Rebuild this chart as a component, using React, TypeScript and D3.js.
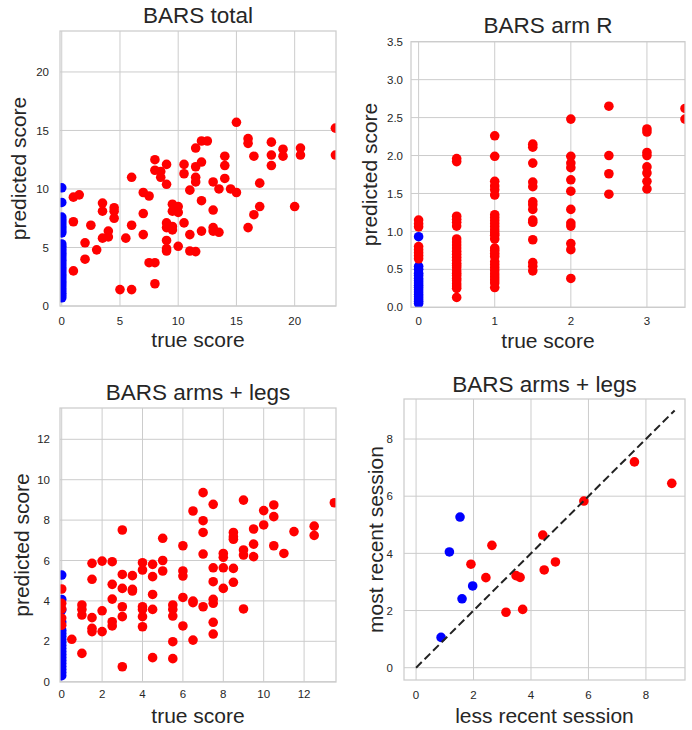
import React from "react";
import * as d3 from "d3";

type Pt = [number, number];

// ---------- DATA ----------
const totalTicks = [0, 5, 10, 15, 20];
const armXTicks = [0, 1, 2, 3];
const armYTicks = [0, 0.5, 1, 1.5, 2, 2.5, 3, 3.5];
const limbsTicks = [0, 2, 4, 6, 8, 10, 12];
const sessionTicks = [0, 2, 4, 6, 8];
const diagonal: Pt[] = [[0, 0], [9, 9]];

const totalRed: Pt[] = [
  [23.5, 15.2], [23.5, 12.9], [15, 15.7], [16, 14.3], [16, 13.9], [16.5, 12.8], [18, 14.0], [18, 12.9], [18, 12.0],
  [19, 13.4], [19, 12.8], [20.5, 13.5], [20.5, 12.9], [20, 8.5], [17, 10.5], [17, 8.5], [16.5, 7.8], [16, 6.7],
  [15, 9.7], [14.5, 10.0], [14, 12.8], [14, 12.0], [14, 10.9], [13.5, 10.0], [13, 10.6], [13, 8.2], [13, 6.7],
  [13, 6.4], [13.5, 6.3], [12, 14.1], [12.5, 14.1], [12, 12.3], [12, 9.0], [12, 6.4], [11.5, 13.5], [11.5, 11.9],
  [11.5, 11.0], [11.5, 10.6], [11, 9.9], [11, 6.1], [11, 4.7], [11.5, 4.65], [10.5, 12.1], [10.5, 11.3], [10.5, 7.1],
  [10, 8.5], [10, 8.0], [9.5, 8.7], [9.5, 8.1], [10, 5.1], [9, 12.1], [9, 10.4], [9, 7.1], [9, 6.7], [9.5, 6.8],
  [9.5, 6.5], [9, 5.6], [9, 4.9], [9, 4.7], [8, 12.5], [8, 11.6], [8.5, 11.5], [8.5, 11.0], [8, 3.7], [7.5, 3.7],
  [8, 1.9], [7, 9.7], [7.5, 9.4], [7, 7.9], [7, 6.1], [6, 11.0], [6, 6.9], [6, 1.4], [5, 1.4], [5.5, 5.8],
  [4.5, 8.4], [4.5, 8.1], [4.5, 7.5], [4, 6.4], [4, 5.9], [3.5, 8.8], [3.5, 8.1], [3.5, 5.8], [3, 4.8], [2.5, 6.9],
  [2, 5.4], [2, 4.0], [1.5, 9.5], [1, 9.3], [1, 7.2], [1, 3.0],
];
const totalBlue: Pt[] = [
  [0, 10.1], [0, 8.85], [0, 7.6], [0, 7.4], [0, 7.2], [0, 7.0], [0, 6.8], [0, 6.6], [0, 6.4], [0, 6.25],
  [0, 5.3], [0, 5.1], [0, 4.9], [0, 4.7], [0, 4.5], [0, 4.3], [0, 4.1], [0, 3.9], [0, 3.7], [0, 3.5],
  [0, 3.3], [0, 3.1], [0, 2.9], [0, 2.7], [0, 2.5], [0, 2.3], [0, 2.1], [0, 1.9], [0, 1.7], [0, 1.5],
  [0, 1.3], [0, 1.1], [0, 0.9], [0, 0.7],
];

const armRed: Pt[] = [
  [0, 1.15], [0, 1.1], [0, 1.06], [0, 0.8], [0, 0.76], [0, 0.72], [0, 0.68], [0, 0.64],
  [0.5, 1.96], [0.5, 1.92], [0.5, 1.2], [0.5, 1.16], [0.5, 1.12], [0.5, 1.07], [0.5, 0.9], [0.5, 0.86],
  [0.5, 0.82], [0.5, 0.78], [0.5, 0.74], [0.5, 0.7], [0.5, 0.66], [0.5, 0.62], [0.5, 0.58], [0.5, 0.55],
  [0.5, 0.52], [0.5, 0.48], [0.5, 0.45], [0.5, 0.42], [0.5, 0.38], [0.5, 0.35], [0.5, 0.31], [0.5, 0.28],
  [0.5, 0.25], [0.5, 0.13],
  [1, 2.26], [1, 1.99], [1, 1.66], [1, 1.6], [1, 1.55], [1, 1.48], [1, 1.22], [1, 1.18], [1, 1.14], [1, 1.1],
  [1, 1.06], [1, 1.02], [1, 0.98], [1, 0.95], [1, 0.9], [1, 0.78], [1, 0.75], [1, 0.71], [1, 0.67], [1, 0.6],
  [1, 0.56], [1, 0.52], [1, 0.48], [1, 0.44], [1, 0.4], [1, 0.36], [1, 0.32], [1, 0.26],
  [1.5, 2.15], [1.5, 2.11], [1.5, 1.9], [1.5, 1.65], [1.5, 1.59], [1.5, 1.39], [1.5, 1.35], [1.5, 1.29],
  [1.5, 1.15], [1.5, 1.12], [1.5, 0.89], [1.5, 0.59], [1.5, 0.54], [1.5, 0.48],
  [2, 2.48], [2, 1.99], [2, 1.9], [2, 1.84], [2, 1.68], [2, 1.53], [2, 1.29], [2, 1.11], [2, 1.07], [2, 0.84],
  [2, 0.76], [2, 0.38],
  [2.5, 2.65], [2.5, 2.0], [2.5, 1.76], [2.5, 1.49],
  [3, 2.35], [3, 2.31], [3, 2.04], [3, 2.0], [3, 1.85], [3, 1.77], [3, 1.66], [3, 1.56],
  [3.5, 2.62], [3.5, 2.48],
];
const armBlue: Pt[] = [
  [0, 0.93], [0, 0.54], [0, 0.5], [0, 0.45], [0, 0.42], [0, 0.38], [0, 0.35], [0, 0.32], [0, 0.29],
  [0, 0.26], [0, 0.23], [0, 0.2], [0, 0.17], [0, 0.14], [0, 0.11], [0, 0.08], [0, 0.05],
];

const limbsRed: Pt[] = [
  [13.5, 8.86], [12.5, 7.7], [12.5, 7.24], [11.5, 7.43], [11, 6.35], [10.5, 8.75], [10.5, 8.17], [10.5, 6.73],
  [10, 8.47], [10, 7.76], [9.5, 7.56], [9.5, 6.81], [9.5, 6.19], [9, 8.99], [9, 6.52], [9, 6.27], [9, 3.6],
  [8.5, 7.39], [8.5, 7.18], [8.5, 7.05], [8.5, 5.61], [8.5, 4.92], [8, 6.35], [8, 6.16], [8, 5.64], [8, 4.62],
  [7.5, 8.78], [7.5, 5.64], [7.5, 4.95], [7.5, 4.08], [7.5, 3.88], [7.5, 2.94], [7.5, 2.36], [7, 9.36], [7, 7.97],
  [7, 7.39], [7, 6.32], [7, 3.71], [6.5, 8.45], [6.5, 3.99], [6.5, 3.91], [6.5, 2.06], [6, 6.73], [6, 5.48],
  [6, 5.23], [6, 4.17], [6, 2.76], [5.5, 3.8], [5.5, 3.58], [5.5, 3.25], [5.5, 1.98], [5.5, 1.14], [5, 7.1],
  [5, 6.0], [5, 5.48], [4.5, 5.81], [4.5, 5.2], [4.5, 4.32], [4.5, 3.58], [4.5, 1.19], [4, 5.89], [4, 5.53],
  [4, 3.71], [4, 3.58], [4, 3.22], [4, 2.72], [3.5, 5.25], [3.5, 4.57], [3.5, 4.49], [3, 7.51], [3, 5.31],
  [3, 4.62], [3, 3.71], [3, 3.22], [3, 0.74], [2.5, 5.94], [2.5, 4.82], [2.5, 4.09], [2.5, 2.97], [2.5, 2.76],
  [2, 5.97], [2, 3.51], [2, 2.48], [1.5, 5.86], [1.5, 5.07], [1.5, 3.17], [1.5, 2.64], [1.5, 2.48], [1, 3.8],
  [1, 3.58], [1, 3.3], [1, 1.4], [0.5, 2.1], [0, 4.59], [0, 3.88], [0, 3.6], [0, 3.15], [0, 2.8],
];
const limbsBlue: Pt[] = [
  [0, 5.28], [0, 4.07], [0, 3.55], [0, 2.95], [0, 2.55], [0, 2.4], [0, 2.25], [0, 2.1], [0, 1.95], [0, 1.8],
  [0, 1.65], [0, 1.5], [0, 1.35], [0, 1.2], [0, 1.05], [0, 0.9], [0, 0.75], [0, 0.6], [0, 0.45], [0, 0.3],
];

const sessionRed: Pt[] = [
  [7.6, 7.2], [8.9, 6.45], [5.84, 5.83], [4.41, 4.64], [4.46, 3.42], [4.85, 3.7], [2.64, 4.28], [1.91, 3.62],
  [2.43, 3.15], [3.48, 3.22], [3.62, 3.16], [3.13, 1.94], [3.71, 2.04],
];
const sessionBlue: Pt[] = [
  [1.53, 5.27], [1.16, 4.05], [1.97, 2.86], [1.6, 2.41], [0.87, 1.06],
];

// ---------- STYLE ----------
const FONT = "'Liberation Sans', Arial, Helvetica, sans-serif";
const TEXT = "#262626";
const GRID = "#cccccc";
const RED = "#ff0000";
const BLUE = "#0000ff";
const R = 4.8;

type PanelProps = {
  id: string;
  frame: { l: number; r: number; t: number; b: number };
  xDomain: [number, number];
  yDomain: [number, number];
  xTicks: number[];
  yTicks: number[];
  xFmt: (v: number) => string;
  yFmt: (v: number) => string;
  title: string;
  titleY: number;
  xlabel: string;
  xlabelY: number;
  ylabel: string;
  ylabelX: number;
  yTickGap: number;
  xTickY: number;
  red: Pt[];
  blue: Pt[];
  line?: Pt[];
};

function Panel(p: PanelProps) {
  const { l, r, t, b } = p.frame;
  const x = d3.scaleLinear().domain(p.xDomain).range([l, r]);
  const y = d3.scaleLinear().domain(p.yDomain).range([b, t]);
  const cx = (l + r) / 2;
  const cy = (t + b) / 2;
  const lineGen = d3.line<Pt>().x((d) => x(d[0])).y((d) => y(d[1]));
  return (
    <g>
      <defs>
        <clipPath id={p.id}>
          <rect x={l} y={t} width={r - l} height={b - t} />
        </clipPath>
      </defs>
      <rect x={l} y={t} width={r - l} height={b - t} fill="#fff" />
      {p.xTicks.map((v) => (
        <line key={"gx" + v} x1={x(v)} x2={x(v)} y1={t} y2={b} stroke={GRID} strokeWidth={1} />
      ))}
      {p.yTicks.map((v) => (
        <line key={"gy" + v} x1={l} x2={r} y1={y(v)} y2={y(v)} stroke={GRID} strokeWidth={1} />
      ))}
      <g clipPath={`url(#${p.id})`}>
        {p.blue.map((d, i) => (
          <circle key={"b" + i} cx={x(d[0])} cy={y(d[1])} r={R} fill={BLUE} />
        ))}
        {p.red.map((d, i) => (
          <circle key={"r" + i} cx={x(d[0])} cy={y(d[1])} r={R} fill={RED} />
        ))}
        {p.line && (
          <path d={lineGen(p.line) || ""} fill="none" stroke="#222" strokeWidth={2} strokeDasharray="8 4" />
        )}
      </g>
      <rect x={l} y={t} width={r - l} height={b - t} fill="none" stroke={GRID} strokeWidth={1.25} />
      {p.xTicks.map((v) => (
        <text key={"tx" + v} x={x(v)} y={p.xTickY} textAnchor="middle" fontSize={11.5} fill={TEXT} fontFamily={FONT}>
          {p.xFmt(v)}
        </text>
      ))}
      {p.yTicks.map((v) => (
        <text key={"ty" + v} x={l - p.yTickGap} y={y(v)} dy="0.36em" textAnchor="end" fontSize={11.5} fill={TEXT} fontFamily={FONT}>
          {p.yFmt(v)}
        </text>
      ))}
      <text x={cx} y={p.titleY} textAnchor="middle" fontSize={22.5} fill={TEXT} fontFamily={FONT}>
        {p.title}
      </text>
      <text x={cx} y={p.xlabelY} textAnchor="middle" fontSize={21} fill={TEXT} fontFamily={FONT}>
        {p.xlabel}
      </text>
      <text
        transform={`translate(${p.ylabelX},${cy}) rotate(-90)`}
        textAnchor="middle"
        fontSize={21}
        fill={TEXT}
        fontFamily={FONT}
      >
        {p.ylabel}
      </text>
    </g>
  );
}

const intFmt = d3.format("d");
const oneFmt = d3.format(".1f");

export default function App() {
  return (
    <svg width={692} height={730} style={{ position: "absolute", left: 0, top: 0, background: "#fff" }}>
      <rect x={0} y={0} width={692} height={730} fill="#fff" />
      <Panel
        id="c1"
        frame={{ l: 60, r: 336, t: 31, b: 306 }}
        xDomain={[-0.15, 23.55]}
        yDomain={[0, 23.5]}
        xTicks={totalTicks}
        yTicks={totalTicks}
        xFmt={intFmt}
        yFmt={intFmt}
        title="BARS total"
        titleY={23}
        xlabel="true score"
        xlabelY={347}
        ylabel="predicted score"
        ylabelX={26}
        yTickGap={11}
        xTickY={325}
        red={totalRed}
        blue={totalBlue}
      />
      <Panel
        id="c2"
        frame={{ l: 411, r: 685, t: 41.7, b: 307.3 }}
        xDomain={[-0.1, 3.5]}
        yDomain={[0, 3.5]}
        xTicks={armXTicks}
        yTicks={armYTicks}
        xFmt={intFmt}
        yFmt={oneFmt}
        title="BARS arm R"
        titleY={33}
        xlabel="true score"
        xlabelY={348}
        ylabel="predicted score"
        ylabelX={377}
        yTickGap={8}
        xTickY={325}
        red={armRed}
        blue={armBlue}
      />
      <Panel
        id="c3"
        frame={{ l: 60, r: 336, t: 408, b: 682 }}
        xDomain={[-0.085, 13.58]}
        yDomain={[-0.015, 13.55]}
        xTicks={limbsTicks}
        yTicks={limbsTicks}
        xFmt={intFmt}
        yFmt={intFmt}
        title="BARS arms + legs"
        titleY={400}
        xlabel="true score"
        xlabelY={723}
        ylabel="predicted score"
        ylabelX={29}
        yTickGap={10}
        xTickY={698}
        red={limbsRed}
        blue={limbsBlue}
      />
      <Panel
        id="c4"
        frame={{ l: 404, r: 685, t: 399, b: 680 }}
        xDomain={[-0.42, 9.36]}
        yDomain={[-0.43, 9.4]}
        xTicks={sessionTicks}
        yTicks={sessionTicks}
        xFmt={intFmt}
        yFmt={intFmt}
        title="BARS arms + legs"
        titleY={392}
        xlabel="less recent session"
        xlabelY={723}
        ylabel="most recent session"
        ylabelX={383}
        yTickGap={11}
        xTickY={699}
        red={sessionRed}
        blue={sessionBlue}
        line={diagonal}
      />
    </svg>
  );
}
